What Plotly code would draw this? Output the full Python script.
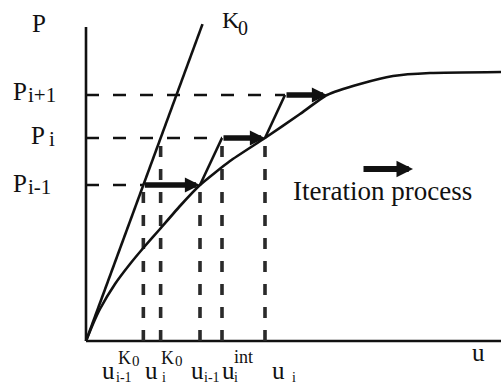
import plotly.graph_objects as go

# ---- data (u = displacement, P = load) ----
P_levels = [1.56, 2.03, 2.46]          # P_{i-1}, P_i, P_{i+1}
u_conv = [1.14, 1.79, 2.41]            # u_{i-1}, u_i, u_{i+1}
u_int = [1.36, 1.99]                   # u_i^int, u_{i+1}^int
K0 = 2.72                              # initial stiffness
K0_u_end = 1.165
u_K0 = [p / K0 for p in P_levels[:2]]  # u_{i-1}^K0, u_i^K0

curve_u = [0, 0.07, 0.14, 0.29, 0.44, 0.59, 0.74, 0.94, 1.14, 1.44, 1.79,
           2.14, 2.41, 2.74, 3.07, 3.44, 4.15]
curve_P = [0, 0.17, 0.32, 0.57, 0.77, 0.95, 1.12, 1.35, 1.56, 1.80, 2.03,
           2.27, 2.46, 2.57, 2.65, 2.68, 2.69]

axis_u_max = 4.15
axis_P_max = 3.14
iter_arrow_u = [2.76, 3.27]
iter_arrow_P = 1.72

FONT = "Liberation Serif"
BLACK = "#111111"

fig = go.Figure()


def line(xs, ys, width=2.6, dash=None, color=BLACK, shape="linear"):
    fig.add_trace(go.Scatter(x=xs, y=ys, mode="lines", hoverinfo="skip",
                             line=dict(color=color, width=width, dash=dash,
                                       shape=shape, smoothing=0.5)))


# axes
line([0, axis_u_max], [0, 0], width=2.6)
line([0, 0], [0, axis_P_max], width=2.6)

# horizontal dashed load levels
h_ends = [u_K0[0], u_int[0], u_int[1]]
for p, ue in zip(P_levels, h_ends):
    line([0, ue], [p, p], width=2.4, dash="13px,14px")

# vertical dashed displacement markers (drawn upward from the u axis)
v_marks = [(u_K0[0], P_levels[0]), (u_K0[1], P_levels[1]),
           (u_conv[0], P_levels[0]), (u_int[0], P_levels[1]),
           (u_conv[1], P_levels[1])]
for u, p in v_marks:
    line([u, u], [0, p], width=3.6, dash="11px,12px", color="#2a2a2a")

# initial stiffness line K0
line([0, K0_u_end], [0, K0 * K0_u_end])

# nonlinear load-displacement curve
line(curve_u, curve_P, shape="spline")

# iteration branches
line([u_conv[0], u_int[0]], [P_levels[0], P_levels[1]])
line([u_conv[1], u_int[1]], [P_levels[1], P_levels[2]])

annotations = []


def arrow(u0, u1, p, width=5.5, size=0.55):
    annotations.append(dict(x=u1, y=p, ax=u0, ay=p, xref="x", yref="y",
                            axref="x", ayref="y", text="", showarrow=True,
                            arrowhead=2, arrowsize=size, arrowwidth=width,
                            arrowcolor=BLACK, standoff=0, startstandoff=0))


arrow(u_K0[0], u_conv[0], P_levels[0])
arrow(u_int[0], u_conv[1], P_levels[1])
arrow(u_int[1], u_conv[2], P_levels[2])
arrow(iter_arrow_u[0], iter_arrow_u[1], iter_arrow_P, width=6, size=0.55)


def label(text, x, y, size, xanchor="left"):
    annotations.append(dict(x=x, y=y, xref="x", yref="y", text=text,
                            showarrow=False, xanchor=xanchor, yanchor="middle",
                            font=dict(family=FONT, size=size, color=BLACK),
                            borderpad=0))


# axis titles
label("P", -0.55, 3.18, 25)
label("u", 3.85, -0.11, 25)
label("K", 1.35, 3.21, 24)
label("0", 1.51, 3.13, 20)

# load level labels
label("P", -0.74, P_levels[2] + 0.04, 25)
label("i+1", -0.595, P_levels[2] + 0.00, 21)
label("P", -0.56, P_levels[1] + 0.03, 25)
label("i", -0.385, P_levels[1] - 0.01, 21)
label("P", -0.74, P_levels[0] + 0.02, 25)
label("i-1", -0.595, P_levels[0] - 0.02, 21)

# displacement labels
label("u", 0.15, -0.29, 25)
label("K", 0.31, -0.165, 18)
label("0", 0.445, -0.20, 15)
label("i-1", 0.29, -0.36, 14)

label("u", 0.58, -0.29, 25)
label("K", 0.74, -0.165, 18)
label("0", 0.875, -0.20, 15)
label("i", 0.745, -0.36, 14)

label("u", 1.04, -0.29, 25)
label("i-1", 1.165, -0.36, 14)

label("u", 1.345, -0.29, 25)
label("int", 1.47, -0.16, 18)
label("i", 1.47, -0.36, 14)

label("u", 1.85, -0.29, 25)
label("i", 2.05, -0.36, 14)

label("Iteration process", 2.06, 1.505, 27)

fig.update_layout(
    width=501, height=386, margin=dict(l=0, r=0, t=0, b=0),
    autosize=False, showlegend=False,
    paper_bgcolor="white", plot_bgcolor="white",
    xaxis=dict(range=[-0.86, 4.15], visible=False, fixedrange=True),
    yaxis=dict(range=[-0.45, 3.41], visible=False, fixedrange=True),
    annotations=annotations,
)

fig.write_html("out.html")
